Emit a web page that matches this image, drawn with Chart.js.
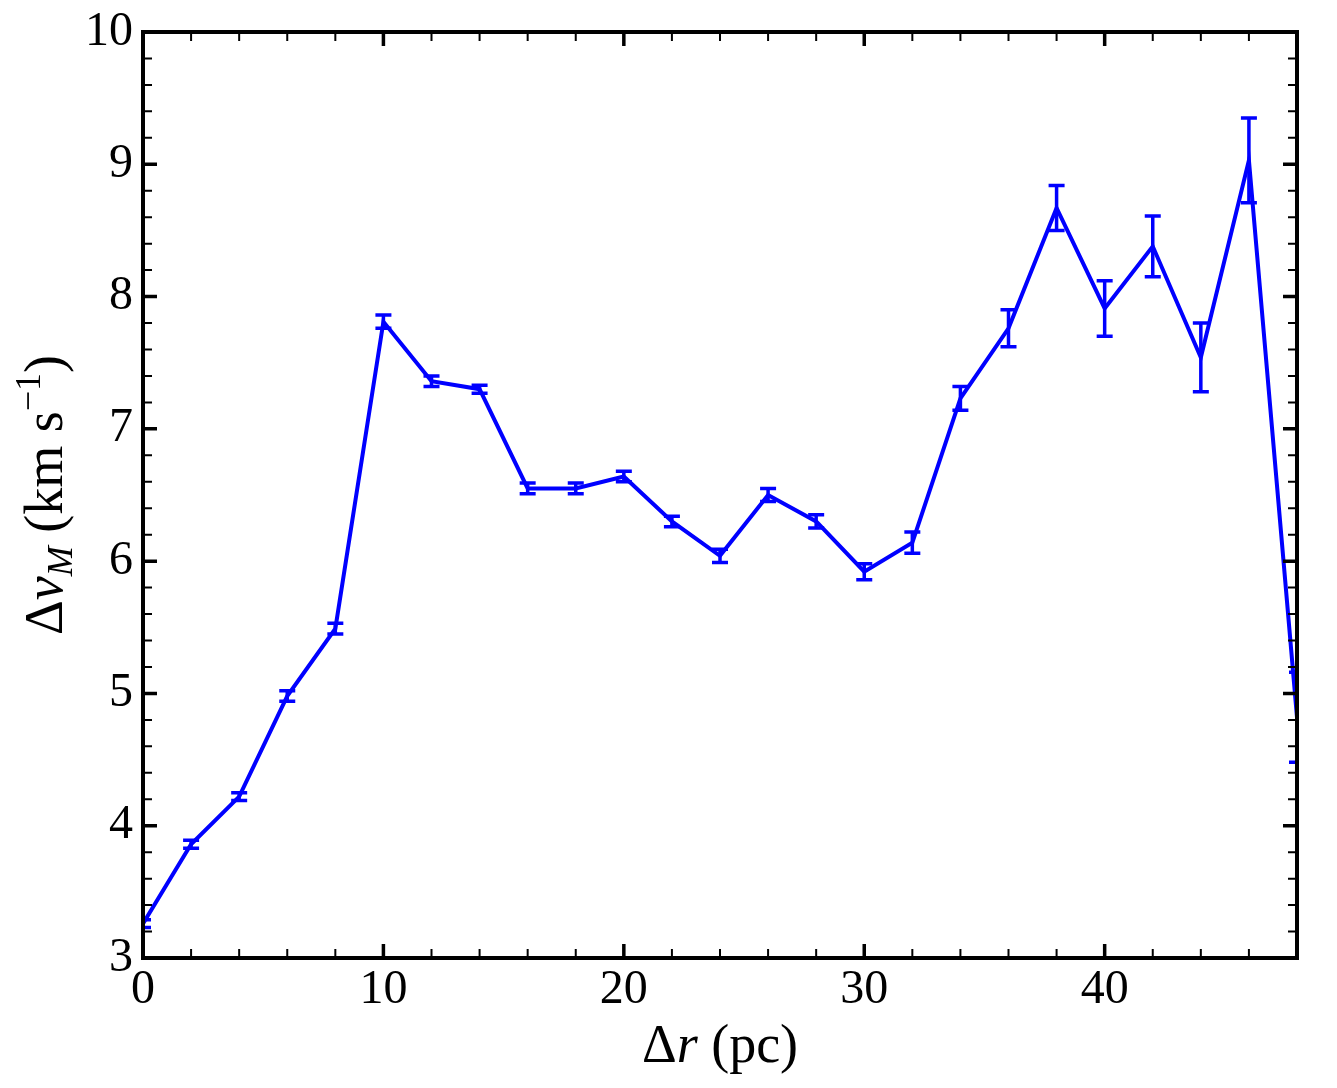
<!DOCTYPE html>
<html>
<head>
<meta charset="utf-8">
<script src="https://cdn.jsdelivr.net/npm/chart.js@4"></script>
<style>
  html, body { margin: 0; padding: 0; background: #fff; }
  #wrap { width: 1337px; height: 1088px; }
</style>
</head>
<body>
<div id="wrap"><canvas id="c" width="1337" height="1088"></canvas></div>
<script>
// ---- data ----
const deltaR = [0, 2, 4, 6, 8, 10, 12, 14, 16, 18, 20, 22, 24, 26, 28, 30, 32, 34, 36, 38, 40, 42, 44, 46, 48];
const deltaV = [3.26, 3.86, 4.22, 4.98, 5.49, 7.81, 7.36, 7.30, 6.55, 6.55, 6.64, 6.30, 6.04, 6.50, 6.30, 5.92, 6.14, 7.23, 7.76, 8.67, 7.91, 8.38, 7.54, 9.03, 4.82];
const deltaVErr = [0.03, 0.03, 0.03, 0.04, 0.04, 0.05, 0.04, 0.03, 0.04, 0.04, 0.04, 0.04, 0.05, 0.05, 0.05, 0.06, 0.08, 0.09, 0.14, 0.17, 0.21, 0.23, 0.26, 0.32, 0.34];
const xTicks = [0, 10, 20, 30, 40];
const yTicks = [3, 4, 5, 6, 7, 8, 9, 10];

const FONT = "'Liberation Serif', 'DejaVu Serif', serif";
const BLUE = '#0000ff';

const points = deltaR.map((x, i) => ({ x: x, y: deltaV[i] }));

const errorBars = {
  id: 'errorBars',
  afterDatasetsDraw(chart) {
    const { ctx, chartArea, scales } = chart;
    ctx.save();
    ctx.beginPath();
    ctx.rect(chartArea.left, chartArea.top, chartArea.right - chartArea.left, chartArea.bottom - chartArea.top);
    ctx.clip();
    ctx.strokeStyle = BLUE;
    ctx.lineWidth = 3.5;
    deltaR.forEach((x, i) => {
      const px = scales.x.getPixelForValue(x);
      const yt = scales.y.getPixelForValue(deltaV[i] + deltaVErr[i]);
      const yb = scales.y.getPixelForValue(deltaV[i] - deltaVErr[i]);
      ctx.beginPath();
      ctx.moveTo(px, yt); ctx.lineTo(px, yb);
      ctx.moveTo(px - 8, yt); ctx.lineTo(px + 8, yt);
      ctx.moveTo(px - 8, yb); ctx.lineTo(px + 8, yb);
      ctx.stroke();
    });
    ctx.restore();
  }
};

function drawRich(ctx, segs) {
  let total = 0;
  segs.forEach(s => { ctx.font = s.font; s.w = ctx.measureText(s.text).width; total += s.w; });
  let x = -total / 2;
  segs.forEach(s => {
    ctx.font = s.font;
    ctx.fillText(s.text, x, s.dy || 0);
    x += s.w;
  });
}

const frame = {
  id: 'frame',
  afterDraw(chart) {
    const { ctx, chartArea: a, scales } = chart;
    ctx.save();
    ctx.strokeStyle = '#000';
    const drawTick = (len, lw, isX, v) => {
      ctx.lineWidth = lw;
      ctx.beginPath();
      if (isX) {
        const p = scales.x.getPixelForValue(v);
        ctx.moveTo(p, a.bottom); ctx.lineTo(p, a.bottom - len);
        ctx.moveTo(p, a.top); ctx.lineTo(p, a.top + len);
      } else {
        const p = scales.y.getPixelForValue(v);
        ctx.moveTo(a.left, p); ctx.lineTo(a.left + len, p);
        ctx.moveTo(a.right, p); ctx.lineTo(a.right - len, p);
      }
      ctx.stroke();
    };
    for (let v = 0; v <= 48; v += 2) {
      if (v % 10 === 0) drawTick(14, 3.5, true, v); else drawTick(9, 2, true, v);
    }
    for (let k = 30; k <= 100; k += 2) {
      const v = k / 10;
      if (k % 10 === 0) drawTick(14, 3.5, false, v); else drawTick(9, 2, false, v);
    }
    ctx.lineWidth = 4;
    ctx.strokeRect(a.left, a.top, a.right - a.left, a.bottom - a.top);

    // axis titles
    ctx.fillStyle = '#000';
    ctx.textBaseline = 'alphabetic';
    ctx.save();
    ctx.translate((a.left + a.right) / 2, 1062);
    drawRich(ctx, [
      { text: 'Δ', font: `54px ${FONT}` },
      { text: 'r', font: `italic 54px ${FONT}` },
      { text: ' (pc)', font: `54px ${FONT}` }
    ]);
    ctx.restore();

    ctx.save();
    ctx.translate(62, (a.top + a.bottom) / 2);
    ctx.rotate(-Math.PI / 2);
    drawRich(ctx, [
      { text: 'Δ', font: `54px ${FONT}` },
      { text: 'v', font: `italic 54px ${FONT}` },
      { text: 'M', font: `italic 36px ${FONT}`, dy: 10 },
      { text: ' (km s', font: `54px ${FONT}` },
      { text: '−1', font: `36px ${FONT}`, dy: -22 },
      { text: ')', font: `54px ${FONT}` }
    ]);
    ctx.restore();
    ctx.restore();
  }
};

new Chart(document.getElementById('c'), {
  type: 'line',
  data: {
    datasets: [{
      data: points,
      borderColor: BLUE,
      borderWidth: 4,
      pointRadius: 0,
      tension: 0,
      fill: false
    }]
  },
  options: {
    responsive: false,
    animation: false,
    layout: { padding: { left: 0, top: 32, right: 40, bottom: 0 } },
    plugins: { legend: { display: false }, tooltip: { enabled: false } },
    scales: {
      x: {
        type: 'linear',
        min: 0, max: 48,
        grid: { display: false, drawTicks: false },
        border: { display: false },
        afterFit(s) { s.height = 130; s.paddingLeft = 0; s.paddingRight = 0; },
        afterBuildTicks(s) { s.ticks = xTicks.map(v => ({ value: v })); },
        ticks: { color: '#000', padding: 4, maxRotation: 0, autoSkip: false, font: { family: FONT, size: 48 } }
      },
      y: {
        type: 'linear',
        min: 3, max: 10,
        grid: { display: false, drawTicks: false },
        border: { display: false },
        afterFit(s) { s.width = 143; s.paddingTop = 0; s.paddingBottom = 0; },
        afterBuildTicks(s) { s.ticks = yTicks.map(v => ({ value: v })); },
        ticks: { color: '#000', padding: 10, autoSkip: false, font: { family: FONT, size: 48 } }
      }
    }
  },
  plugins: [errorBars, frame]
});
</script>
</body>
</html>
